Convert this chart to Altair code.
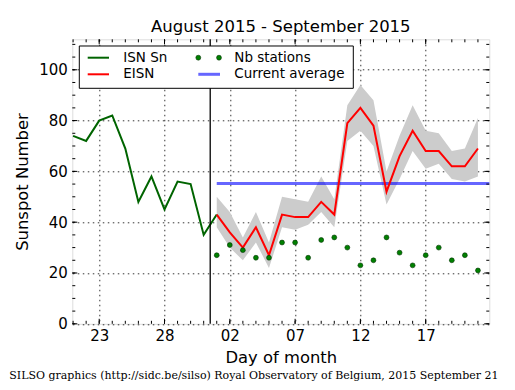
import altair as alt
import pandas as pd

# ---------------- data (day index: 0 = 2015-09-01) ----------------
isn_days = [-11, -10, -9, -8, -7, -6, -5, -4, -3, -2, -1, 0]
isn_vals = [74, 72, 80, 82, 69, 48, 58, 45, 56, 55, 35, 43]

eisn_days = [0, 1, 2, 3, 4, 5, 6, 7, 8, 9, 10, 11, 12, 13, 14, 15, 16, 17, 18, 19, 20]
eisn_vals = [43, 36, 30, 38, 27, 43, 42, 42, 48, 43, 79, 85, 78, 52, 66, 76, 68, 68, 62, 62, 69]
eisn_lo = [38, 30, 25, 32, 22, 38, 37, 39, 44, 38, 72, 76, 70, 47, 57, 68, 61, 63, 57, 56, 58]
eisn_hi = [50, 44, 34, 44, 32, 50, 49, 48, 58, 49, 86, 94, 88, 60, 74, 86, 76, 75, 68, 69, 81]
stations = [27, 31, 29, 26, 26, 32, 32, 26, 33, 34, 30, 23, 25, 34, 28, 23, 27, 30, 25, 27, 21]
current_avg = 55.2
boundary_day = -0.5

x_tick_days = [-9, -4, 1, 6, 11, 16]
x_tick_labels = ["23", "28", "02", "07", "12", "17"]
x_minor_days = [-11, -10, -9, -8, -7, -6, -5, -4, -3, -2, -1, 0, 1, 2, 3, 4, 5, 6, 7, 8,
                9, 10, 11, 12, 13, 14, 15, 16, 17, 18, 19, 20]
y_tick_vals = [0, 20, 40, 60, 80, 100]
y_minor_vals = [0, 5, 10, 15, 20, 25, 30, 35, 40, 45, 50, 55, 60, 65, 70, 75, 80, 85, 90,
                95, 100, 105, 110]

legend_labels = ["ISN Sn", "EISN", "Nb stations", "Current average"]
title_text = "August 2015 - September 2015"
footer_text = "SILSO graphics (http://sidc.be/silso) Royal Observatory of Belgium, 2015 September 21"

# ---------------- layout ----------------
W, H = 417, 284.5
X_DOMAIN = [-11.06, 20.87]
Y_DOMAIN = [0, 112]
FONT = "DejaVu Sans"

label_expr = " : ".join(
    f"datum.value == {d} ? '{l}'" for d, l in zip(x_tick_days, x_tick_labels)
) + " : ''"

xscale = alt.Scale(domain=X_DOMAIN, nice=False, zero=False)
yscale = alt.Scale(domain=Y_DOMAIN, nice=False, zero=False)

xaxis = alt.Axis(values=x_tick_days, labelExpr=label_expr, ticks=False, domain=False,
                 grid=True, gridColor="black", gridDash=[1.5, 3.5], gridWidth=0.8,
                 gridOpacity=1, labelFontSize=15, labelPadding=5, labelColor="black",
                 titleFontSize=16.4, titlePadding=6, titleColor="black",
                 titleFontWeight="normal", labelFont=FONT, titleFont=FONT)
yaxis = alt.Axis(values=y_tick_vals, ticks=False, domain=False,
                 grid=True, gridColor="black", gridDash=[1.5, 3.5], gridWidth=0.8,
                 gridOpacity=1, labelFontSize=15, labelPadding=5, labelColor="black",
                 titleFontSize=16.4, titlePadding=8, titleColor="black",
                 titleFontWeight="normal", labelFont=FONT, titleFont=FONT)


def X(field="d"):
    return alt.X(f"{field}:Q", scale=xscale, axis=xaxis, title="Day of month")


def Y(field="v"):
    return alt.Y(f"{field}:Q", scale=yscale, axis=yaxis, title="Sunspot Number")


isn_df = pd.DataFrame({"d": isn_days, "v": isn_vals})
eisn_df = pd.DataFrame({"d": eisn_days, "v": eisn_vals, "lo": eisn_lo, "hi": eisn_hi,
                        "st": stations})

band = alt.Chart(eisn_df).mark_area(color="#cccccc", opacity=1).encode(
    x=X(), y=Y("lo"), y2="hi:Q")

avg = alt.Chart(pd.DataFrame({"d": [eisn_days[0]], "d2": [X_DOMAIN[1]], "v": [current_avg]})
                ).mark_rule(color="#0000ff", opacity=0.6, strokeWidth=3).encode(
    x=X(), x2="d2:Q", y=Y())

isn_line = alt.Chart(isn_df).mark_line(color="#006400", strokeWidth=2).encode(x=X(), y=Y())
eisn_line = alt.Chart(eisn_df).mark_line(color="#ff0000", strokeWidth=2).encode(x=X(), y=Y())
dots = alt.Chart(eisn_df).mark_point(filled=True, fill="#008000", stroke="#003000",
                                     strokeWidth=0.6, size=24, opacity=1).encode(
    x=X(), y=Y("st"))

vline = alt.Chart(pd.DataFrame({"d": [boundary_day]})).mark_rule(
    color="black", strokeWidth=1.3).encode(x=X())

xmin_df = pd.DataFrame({"d": x_minor_days})
xmaj_df = pd.DataFrame({"d": x_tick_days})
ymin_df = pd.DataFrame({"v": y_minor_vals})
ymaj_df = pd.DataFrame({"v": y_tick_vals})
tk = dict(color="black", strokeWidth=1)
ticks = [
    alt.Chart(xmin_df).mark_rule(**tk).encode(x=X(), y=alt.value(H), y2=alt.value(H - 3)),
    alt.Chart(xmin_df).mark_rule(**tk).encode(x=X(), y=alt.value(0), y2=alt.value(3)),
    alt.Chart(xmaj_df).mark_rule(**tk).encode(x=X(), y=alt.value(H), y2=alt.value(H - 5)),
    alt.Chart(xmaj_df).mark_rule(**tk).encode(x=X(), y=alt.value(0), y2=alt.value(5)),
    alt.Chart(ymin_df).mark_rule(**tk).encode(y=Y(), x=alt.value(0), x2=alt.value(3)),
    alt.Chart(ymin_df).mark_rule(**tk).encode(y=Y(), x=alt.value(W), x2=alt.value(W - 3)),
    alt.Chart(ymaj_df).mark_rule(**tk).encode(y=Y(), x=alt.value(0), x2=alt.value(5)),
    alt.Chart(ymaj_df).mark_rule(**tk).encode(y=Y(), x=alt.value(W), x2=alt.value(W - 5)),
]

one = pd.DataFrame({"a": [0]})
leg_box = alt.Chart(one).mark_rect(fill="white", stroke="black", strokeWidth=1).encode(
    x=alt.value(7), x2=alt.value(281), y=alt.value(6.7), y2=alt.value(49))
leg_isn = alt.Chart(one).mark_rule(color="#006400", strokeWidth=2).encode(
    x=alt.value(15.4), x2=alt.value(36.7), y=alt.value(18.4))
leg_eisn = alt.Chart(one).mark_rule(color="#ff0000", strokeWidth=2).encode(
    x=alt.value(15.4), x2=alt.value(36.7), y=alt.value(35))
leg_avg = alt.Chart(one).mark_rule(color="#0000ff", opacity=0.6, strokeWidth=3).encode(
    x=alt.value(126), x2=alt.value(147.7), y=alt.value(35))
leg_dots = [alt.Chart(one).mark_point(filled=True, fill="#008000", stroke="#003000",
                                      strokeWidth=0.6, size=24, opacity=1).encode(
    x=alt.value(px), y=alt.value(18.4)) for px in (126, 146.7)]
leg_txt = []
for lab, px, py in zip(legend_labels, [51, 51, 162, 162], [18.4, 35, 18.4, 35]):
    leg_txt.append(alt.Chart(one).mark_text(align="left", baseline="middle", font=FONT,
                                            fontSize=13.5, color="black").encode(
        x=alt.value(px), y=alt.value(py), text=alt.value(lab)))

title = alt.Chart(one).mark_text(align="center", baseline="alphabetic", font=FONT,
                                 fontSize=16.5, color="black").encode(
    x=alt.value(W / 2), y=alt.value(-7.6), text=alt.value(title_text))
footer = alt.Chart(one).mark_text(align="left", baseline="alphabetic", font="DejaVu Serif",
                                  fontSize=11, color="black").encode(
    x=alt.value(-63), y=alt.value(339.6), text=alt.value(footer_text))

chart = alt.layer(
    band, avg, isn_line, eisn_line, dots, vline, *ticks,
    leg_box, leg_isn, leg_eisn, leg_avg, *leg_dots, *leg_txt, title, footer
).properties(
    width=W, height=H,
    autosize=alt.AutoSizeParams(type="none"),
    padding={"left": 64.3, "top": 31.3, "right": 17, "bottom": 58},
).configure_view(stroke="black", strokeWidth=1.2).configure(font=FONT)

chart.save("out.html", embed_options={"renderer": "svg", "actions": False})
